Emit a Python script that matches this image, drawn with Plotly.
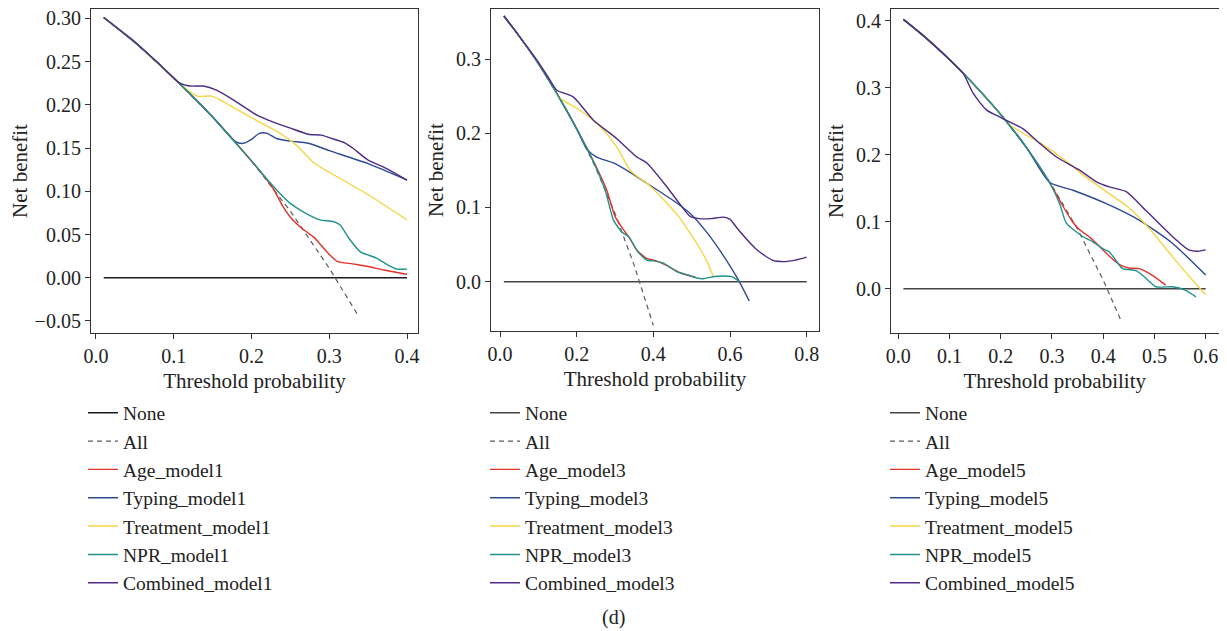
import plotly.graph_objects as go

# ---------------- Panel 1 data ----------------
X_NONE1 = [0.01, 0.40]
Y_NONE1 = [0.0, 0.0]
X_ALL1 = [0.01, 0.05, 0.10, 0.15, 0.20, 0.25, 0.30, 0.338]
Y_ALL1 = [0.301, 0.272, 0.231, 0.186, 0.135, 0.077, 0.011, -0.045]
X_AGE1 = [0.01, 0.05, 0.10, 0.15, 0.20, 0.22, 0.23, 0.24, 0.25, 0.265, 0.28, 0.29, 0.30, 0.31, 0.33, 0.35, 0.37, 0.40]
Y_AGE1 = [0.301, 0.272, 0.231, 0.186, 0.135, 0.113, 0.100, 0.083, 0.070, 0.057, 0.047, 0.037, 0.027, 0.019, 0.016, 0.013, 0.009, 0.004]
X_TYP1 = [0.01, 0.05, 0.10, 0.15, 0.18, 0.19, 0.20, 0.21, 0.22, 0.232, 0.25, 0.273, 0.30, 0.35, 0.40]
Y_TYP1 = [0.301, 0.272, 0.231, 0.186, 0.157, 0.1555, 0.160, 0.167, 0.167, 0.161, 0.158, 0.1555, 0.147, 0.132, 0.113]
X_TRT1 = [0.01, 0.05, 0.10, 0.121, 0.13, 0.149, 0.159, 0.198, 0.237, 0.254, 0.265, 0.28, 0.30, 0.35, 0.40]
Y_TRT1 = [0.301, 0.272, 0.231, 0.215, 0.210, 0.210, 0.206, 0.186, 0.167, 0.156, 0.147, 0.133, 0.122, 0.096, 0.067]
X_NPR1 = [0.01, 0.05, 0.10, 0.15, 0.20, 0.22, 0.235, 0.25, 0.267, 0.288, 0.305, 0.314, 0.325, 0.34, 0.36, 0.375, 0.387, 0.40]
Y_NPR1 = [0.301, 0.272, 0.231, 0.186, 0.135, 0.114, 0.099, 0.086, 0.076, 0.067, 0.065, 0.061, 0.046, 0.030, 0.023, 0.015, 0.010, 0.010]
X_CMB1 = [0.01, 0.05, 0.078, 0.108, 0.121, 0.138, 0.155, 0.177, 0.207, 0.228, 0.25, 0.273, 0.29, 0.30, 0.32, 0.33, 0.35, 0.37, 0.40]
Y_CMB1 = [0.301, 0.273, 0.250, 0.225, 0.2217, 0.2217, 0.217, 0.2055, 0.188, 0.180, 0.173, 0.166, 0.165, 0.162, 0.156, 0.150, 0.136, 0.128, 0.113]

# ---------------- Panel 2 data ----------------
X_NONE2 = [0.01, 0.80]
Y_NONE2 = [0.0, 0.0]
X_ALL2 = [0.01, 0.05, 0.10, 0.15, 0.20, 0.25, 0.30, 0.35, 0.40]
Y_ALL2 = [0.358, 0.331, 0.294, 0.252, 0.206, 0.153, 0.092, 0.022, -0.059]
X_AGE2 = [0.01, 0.05, 0.10, 0.15, 0.20, 0.248, 0.278, 0.30, 0.322, 0.339, 0.356, 0.382, 0.408, 0.434, 0.469, 0.51]
Y_AGE2 = [0.358, 0.331, 0.294, 0.252, 0.206, 0.158, 0.124, 0.088, 0.070, 0.058, 0.043, 0.0315, 0.028, 0.022, 0.012, 0.006]
X_TYP2 = [0.01, 0.05, 0.10, 0.15, 0.20, 0.226, 0.252, 0.296, 0.34, 0.383, 0.45, 0.50, 0.54, 0.58, 0.622, 0.65]
Y_TYP2 = [0.358, 0.331, 0.294, 0.252, 0.206, 0.179, 0.168, 0.160, 0.147, 0.1326, 0.110, 0.090, 0.066, 0.037, 0.002, -0.026]
X_TRT2 = [0.01, 0.05, 0.10, 0.14, 0.152, 0.209, 0.261, 0.304, 0.339, 0.365, 0.383, 0.435, 0.47, 0.50, 0.522, 0.54, 0.557]
Y_TRT2 = [0.358, 0.331, 0.294, 0.261, 0.249, 0.231, 0.209, 0.182, 0.1505, 0.139, 0.1326, 0.106, 0.085, 0.062, 0.044, 0.027, 0.006]
X_NPR2 = [0.01, 0.05, 0.10, 0.15, 0.20, 0.245, 0.275, 0.296, 0.3175, 0.335, 0.346, 0.36, 0.383, 0.40, 0.426, 0.461, 0.49, 0.513, 0.53, 0.56, 0.582, 0.604, 0.625]
Y_NPR2 = [0.358, 0.331, 0.294, 0.252, 0.206, 0.160, 0.122, 0.083, 0.067, 0.061, 0.052, 0.040, 0.029, 0.028, 0.025, 0.0135, 0.009, 0.005, 0.004, 0.007, 0.0077, 0.0068, 0.0]
X_CMB2 = [0.01, 0.05, 0.10, 0.13, 0.148, 0.191, 0.243, 0.304, 0.357, 0.383, 0.435, 0.47, 0.496, 0.52, 0.55, 0.583, 0.60, 0.62, 0.67, 0.71, 0.74, 0.77, 0.80]
Y_CMB2 = [0.358, 0.331, 0.296, 0.272, 0.258, 0.249, 0.218, 0.193, 0.168, 0.160, 0.128, 0.104, 0.088, 0.085, 0.085, 0.087, 0.084, 0.071, 0.043, 0.029, 0.027, 0.029, 0.033]

# ---------------- Panel 3 data ----------------
X_NONE3 = [0.01, 0.60]
Y_NONE3 = [0.0, 0.0]
X_ALL3 = [0.01, 0.05, 0.10, 0.15, 0.20, 0.25, 0.30, 0.35, 0.40, 0.435]
Y_ALL3 = [0.402, 0.377, 0.342, 0.303, 0.260, 0.211, 0.154, 0.089, 0.013, -0.048]
X_AGE3 = [0.01, 0.05, 0.10, 0.15, 0.20, 0.25, 0.295, 0.32, 0.34, 0.354, 0.375, 0.393, 0.41, 0.432, 0.45, 0.47, 0.496, 0.522]
Y_AGE3 = [0.402, 0.377, 0.342, 0.303, 0.260, 0.211, 0.159, 0.125, 0.100, 0.088, 0.076, 0.063, 0.050, 0.036, 0.031, 0.030, 0.020, 0.0055]
X_TYP3 = [0.01, 0.05, 0.10, 0.15, 0.20, 0.25, 0.295, 0.341, 0.406, 0.47, 0.535, 0.60]
Y_TYP3 = [0.402, 0.377, 0.342, 0.303, 0.260, 0.211, 0.159, 0.147, 0.127, 0.1025, 0.068, 0.0204]
X_TRT3 = [0.01, 0.05, 0.10, 0.15, 0.20, 0.21, 0.23, 0.276, 0.334, 0.36, 0.393, 0.45, 0.49, 0.535, 0.574, 0.60]
Y_TRT3 = [0.402, 0.377, 0.342, 0.303, 0.260, 0.250, 0.238, 0.218, 0.187, 0.170, 0.152, 0.121, 0.090, 0.048, 0.013, -0.009]
X_NPR3 = [0.01, 0.05, 0.10, 0.15, 0.20, 0.25, 0.295, 0.315, 0.328, 0.36, 0.38, 0.399, 0.412, 0.425, 0.438, 0.464, 0.48, 0.503, 0.535, 0.56, 0.581]
Y_NPR3 = [0.402, 0.377, 0.342, 0.303, 0.260, 0.211, 0.159, 0.127, 0.098, 0.078, 0.070, 0.060, 0.055, 0.042, 0.030, 0.027, 0.018, 0.003, 0.003, -0.002, -0.012]
X_CMB3 = [0.01, 0.05, 0.10, 0.127, 0.146, 0.172, 0.204, 0.243, 0.276, 0.308, 0.354, 0.386, 0.412, 0.445, 0.483, 0.535, 0.567, 0.585, 0.60]
Y_CMB3 = [0.402, 0.377, 0.342, 0.321, 0.292, 0.267, 0.254, 0.239, 0.217, 0.197, 0.177, 0.160, 0.152, 0.145, 0.117, 0.078, 0.058, 0.056, 0.058]

# ---------------- Axis settings ----------------
X_TICKS = [[0.0, 0.1, 0.2, 0.3, 0.4], [0.0, 0.2, 0.4, 0.6, 0.8], [0.0, 0.1, 0.2, 0.3, 0.4, 0.5, 0.6]]
Y_TICKS = [[-0.05, 0.0, 0.05, 0.10, 0.15, 0.20, 0.25, 0.30], [0.0, 0.1, 0.2, 0.3], [0.0, 0.1, 0.2, 0.3, 0.4]]
Y_FORMAT = [".2f", ".1f", ".1f"]
X_RANGE = [[-0.0064, 0.4141], [-0.0235, 0.832], [-0.0142, 0.625]]
Y_RANGE = [[-0.0639, 0.3108], [-0.0665, 0.3675], [-0.066, 0.4175]]

NAMES = ["None", "All", "Age_model{}", "Typing_model{}", "Treatment_model{}", "NPR_model{}", "Combined_model{}"]
COLORS = ["#1a1a1a", "#5c5c5c", "#e0312a", "#2c4a94", "#f5d547", "#21918c", "#4e2a84"]
NONE_COLORS = ["#1a1a1a", "#444444", "#444444"]
MODEL_NO = [1, 3, 5]

panels = [
    [(X_NONE1, Y_NONE1), (X_ALL1, Y_ALL1), (X_AGE1, Y_AGE1), (X_TYP1, Y_TYP1), (X_TRT1, Y_TRT1), (X_NPR1, Y_NPR1), (X_CMB1, Y_CMB1)],
    [(X_NONE2, Y_NONE2), (X_ALL2, Y_ALL2), (X_AGE2, Y_AGE2), (X_TYP2, Y_TYP2), (X_TRT2, Y_TRT2), (X_NPR2, Y_NPR2), (X_CMB2, Y_CMB2)],
    [(X_NONE3, Y_NONE3), (X_ALL3, Y_ALL3), (X_AGE3, Y_AGE3), (X_TYP3, Y_TYP3), (X_TRT3, Y_TRT3), (X_NPR3, Y_NPR3), (X_CMB3, Y_CMB3)],
]

# page body adds an 8px margin, so the figure is laid out 8px smaller
W, H = 1219, 623
FONT = "Liberation Serif"
X_DOM = [[83 / W, 410 / W], [483 / W, 811 / W], [883 / W, 1210.5 / W]]
Y_BOT = [325, 323, 325]
Y_TOP = 1
LEG_X = [75 / W, 477 / W, 877 / W]
Y_STANDOFF = [14, 6, 6]

fig = go.Figure()
for p in range(3):
    ax = "" if p == 0 else str(p + 1)
    leg = "legend" if p == 0 else "legend" + str(p + 1)
    for k, (xs, ys) in enumerate(panels[p]):
        if k == 0:
            line = dict(color=NONE_COLORS[p], width=1.5)
        elif k == 1:
            line = dict(color=COLORS[k], width=1.2, dash="5px,4px")
        else:
            line = dict(color=COLORS[k], width=1.4, shape="spline", smoothing=0.6)
        fig.add_trace(go.Scatter(
            x=xs, y=ys, mode="lines", name=NAMES[k].format(MODEL_NO[p]),
            line=line, xaxis="x" + ax, yaxis="y" + ax, legend=leg,
        ))
    axis_common = dict(showline=True, linecolor="#333333", linewidth=1.2, mirror=True,
                       ticks="outside", ticklen=5, tickcolor="#333333", tickwidth=1.1,
                       showgrid=False, zeroline=False, automargin=False,
                       ticklabeloverflow="allow",
                       tickfont=dict(family=FONT, size=20, color="#222222"))
    fig.update_layout(**{
        "xaxis" + ax: dict(domain=X_DOM[p], range=X_RANGE[p], tickvals=X_TICKS[p], tickformat=".1f",
                           anchor="y" + ax,
                           title=dict(text="Threshold probability", standoff=7,
                                      font=dict(family=FONT, size=21, color="#222222")),
                           **axis_common),
        "yaxis" + ax: dict(domain=[1 - Y_BOT[p] / H, 1 - Y_TOP / H], range=Y_RANGE[p],
                           tickvals=Y_TICKS[p], tickformat=Y_FORMAT[p], anchor="x" + ax,
                           title=dict(text="Net benefit", standoff=Y_STANDOFF[p],
                                      font=dict(family=FONT, size=21, color="#222222")),
                           **axis_common),
        leg: dict(x=LEG_X[p], y=1 - 385.5 / H, xanchor="left", yanchor="top",
                  bgcolor="rgba(0,0,0,0)", borderwidth=0, tracegroupgap=0,
                  font=dict(family=FONT, size=19.5, color="#222222")),
    })

fig.add_annotation(text="(d)", x=605 / W, y=1 - 609 / H, xref="paper", yref="paper",
                   xanchor="center", yanchor="middle", showarrow=False,
                   font=dict(family=FONT, size=20, color="#222222"))

fig.update_layout(width=W, height=H, margin=dict(l=0, r=0, t=0, b=0),
                  plot_bgcolor="white", paper_bgcolor="white", showlegend=True,
                  font=dict(family=FONT))

fig.write_html("out.html")
